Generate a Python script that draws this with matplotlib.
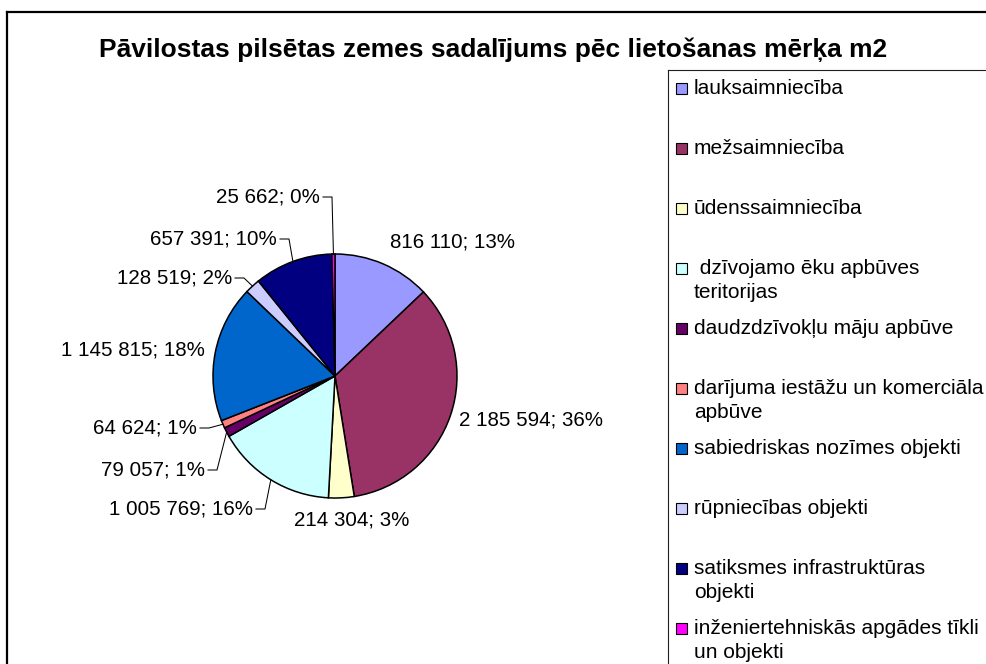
import matplotlib
matplotlib.use("Agg")
import matplotlib.pyplot as plt
from matplotlib.patches import Rectangle
import numpy as np

plt.rcParams['font.family'] = ['Liberation Sans', 'DejaVu Sans']

# land use categories (legend order = slice order, clockwise from top)
categories = [
    "lauksaimniecība",
    "mežsaimniecība",
    "ūdenssaimniecība",
    " dzīvojamo ēku apbūves\nteritorijas",
    "daudzdzīvokļu māju apbūve",
    "darījuma iestāžu un komerciāla\napbūve",
    "sabiedriskas nozīmes objekti",
    "rūpniecības objekti",
    "satiksmes infrastruktūras\nobjekti",
    "inženiertehniskās apgādes tīkli\nun objekti",
]
areas_m2 = [816110, 2185594, 214304, 1005769, 79057, 64624, 1145815, 128519, 657391, 25662]
percent_labels = ["13%", "36%", "3%", "16%", "1%", "1%", "18%", "2%", "10%", "0%"]
colors = ["#9999FF", "#993366", "#FFFFCC", "#CCFFFF", "#660066",
          "#FF8080", "#0066CC", "#CCCCFF", "#000080", "#FF00FF"]

title = "Pāvilostas pilsētas zemes sadalījums pēc lietošanas mērķa m2"

# layout (pixel coordinates, y down)
W, H = 986, 664
cx, cy, R = 335, 376, 122
# label anchor: x, y, horizontal alignment, draw leader line
label_pos = [
    (390, 242, 'left', False),
    (459, 420, 'left', False),
    (352, 520, 'center', False),
    (253, 509, 'right', True),
    (205, 470, 'right', True),
    (197, 428, 'right', True),
    (205, 350, 'right', False),
    (232, 278, 'right', True),
    (277, 239, 'right', True),
    (320, 197, 'right', True),
]

fig = plt.figure(figsize=(W / 100, H / 100), dpi=100)
ax = fig.add_axes([0, 0, 1, 1])

wedges, _ = ax.pie(areas_m2, colors=colors, center=(cx, cy), radius=R,
                   startangle=-90, counterclock=True,
                   wedgeprops=dict(edgecolor='black', linewidth=1.1))
ax.set_xlim(0, W)
ax.set_ylim(H, 0)
ax.axis('off')

# data labels "value; percent" with leader lines for the small slices
for w, val, pct, (lx, ly, ha, leader) in zip(wedges, areas_m2, percent_labels, label_pos):
    txt = f"{val:,}".replace(",", " ") + "; " + pct
    ax.text(lx, ly, txt, ha=ha, va='center', fontsize=14.8)
    if leader:
        mid = np.deg2rad((w.theta1 + w.theta2) / 2)
        ex = cx + R * np.cos(mid)
        ey = cy + R * np.sin(mid)
        ax.plot([lx + 3, lx + 12, ex], [ly, ly, ey], color='black', lw=0.75)

# title
ax.text(493, 57, title, ha='center', va='baseline', fontsize=19, fontweight='bold')

# chart area border (runs off the right and bottom)
ax.plot([7, 7], [12, H + 10], color='black', lw=1.6, solid_capstyle='projecting')
ax.plot([7, W + 10], [12, 12], color='black', lw=1.6, solid_capstyle='projecting')

# legend box (also cut off)
ax.plot([668, 668], [70, H + 10], color='#202020', lw=0.8)
ax.plot([668, W + 10], [70, 70], color='#202020', lw=0.8)

for i, (name, col) in enumerate(zip(categories, colors)):
    y0 = 88 + 60 * i
    ax.add_patch(Rectangle((676, y0 - 5.5), 11, 11, facecolor=col,
                           edgecolor='black', lw=0.8))
    for k, line in enumerate(name.split("\n")):
        ax.text(694, y0 + 25 * k, line, ha='left', va='center', fontsize=15)

fig.savefig("out.png", dpi=100)
